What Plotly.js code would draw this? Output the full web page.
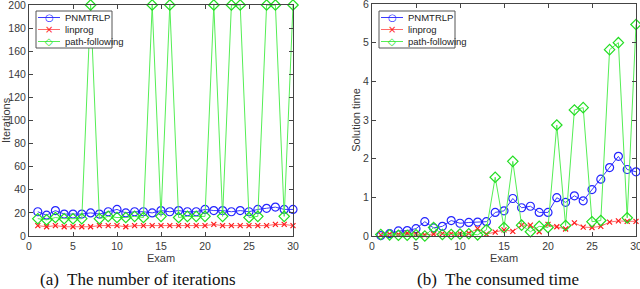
<!DOCTYPE html>
<html>
<head>
<meta charset="utf-8">
<script src="https://cdn.plot.ly/plotly-3.0.1.min.js"></script>
<style>html,body{margin:0;padding:0;background:#fff;}#chart{width:640px;height:289px;}</style>
</head>
<body>
<div id="chart"></div>
<script>
const exams = [1,2,3,4,5,6,7,8,9,10,11,12,13,14,15,16,17,18,19,20,21,22,23,24,25,26,27,28,29,30];

// (a) iterations
const iterPNMTRLP = [21,18,22,19,19,19,20,19,21,23,20,21,21,20,22,21,22,21,21,23,22,22,21,22,21,23,24,25,23,23];
const iterLinprog = [9,8,9,8,8,8,8,9,9,9,8,9,9,9,9,9,9,9,9,9,10,9,9,9,9,9,9,10,10,9];
const iterPath = [15,14,16,15,15,15,200,15,17,16,16,17,16,200,17,200,16,17,17,17,200,17,200,200,16,17,200,200,17,200];

// (b) solution time
const timePNMTRLP = [0.01,0.06,0.13,0.14,0.19,0.37,0.21,0.25,0.40,0.33,0.35,0.36,0.37,0.61,0.65,0.97,0.73,0.77,0.61,0.61,0.99,0.87,1.04,0.91,1.20,1.47,1.77,2.06,1.72,1.66];
const timeLinprog = [0.03,0.05,0.04,0.07,0.05,0.03,0.05,0.06,0.06,0.06,0.07,0.19,0.05,0.10,0.16,0.12,0.28,0.28,0.11,0.30,0.24,0.18,0.34,0.23,0.22,0.25,0.36,0.39,0.38,0.38];
const timePath = [0.04,0.03,0.02,0.02,0.03,0.00,0.22,0.04,0.04,0.05,0.06,0.03,0.16,1.52,0.22,1.93,0.28,0.11,0.25,0.22,2.87,0.27,3.26,3.32,0.37,0.40,4.82,5.00,0.47,5.47];

const xTicks = [0,5,10,15,20,25,30];
const yTicksIter = [0,20,40,60,80,100,120,140,160,180,200];
const yTicksTime = [0,1,2,3,4,5,6];

const names = ['PNMTRLP','linprog','path-following'];
const glyphs = ['○','×','◇'];
const lineColors = ['#3a3aff','#ff6a6a','#55ee55'];
const markerColors = ['#2424ff','#ff1a1a','#22dd22'];
const symbols = ['circle-open','x-thin-open','diamond-open'];
const sizes = [8,5,8];

function mk(y, i, xa, ya) {
  return {
    x: exams, y: y, name: names[i], type: 'scatter', mode: 'lines+markers',
    xaxis: xa, yaxis: ya, showlegend: false,
    line: {color: lineColors[i], width: 1},
    marker: {symbol: symbols[i], size: sizes[i], color: markerColors[i], line: {color: markerColors[i], width: 1.2}},
    cliponaxis: false
  };
}

const data = [
  mk(iterPNMTRLP,0,'x','y'),
  mk(iterLinprog,1,'x','y'),
  mk(iterPath,2,'x','y'),
  mk(timePNMTRLP,0,'x2','y2'),
  mk(timeLinprog,1,'x2','y2'),
  mk(timePath,2,'x2','y2')
];

const tickFont = {family: 'Liberation Sans, Arial, sans-serif', size: 10.5, color: '#3a3a3a'};
const axBase = {
  showline: true, linecolor: '#444', linewidth: 1, mirror: 'ticks',
  ticks: 'inside', ticklen: 4, tickcolor: '#444', tickwidth: 1,
  showgrid: false, zeroline: false, tickfont: tickFont, fixedrange: true,
  ticklabeloverflow: 'allow'
};
const titleFont = {family: 'Liberation Sans, Arial, sans-serif', size: 11, color: '#3a3a3a'};

const W = 640, H = 289;
const px = v => v / W;
const py = v => (H - v) / H;

// custom compact legends (MATLAB style)
const shapes = [];
const annotations = [];
function addLegend(x0, x1) {
  shapes.push({type: 'rect', xref: 'paper', yref: 'paper', x0: px(x0), x1: px(x1), y0: py(48), y1: py(11),
    fillcolor: '#fff', line: {color: '#555', width: 1}, layer: 'above'});
  const rows = [17.5, 29.5, 41.5];
  names.forEach((n, i) => {
    shapes.push({type: 'line', xref: 'paper', yref: 'paper', x0: px(x0 + 2), x1: px(x0 + 24), y0: py(rows[i]), y1: py(rows[i]),
      line: {color: lineColors[i], width: 1}, layer: 'above'});
    annotations.push({text: glyphs[i], xref: 'paper', yref: 'paper', x: px(x0 + 13), y: py(rows[i]),
      xanchor: 'center', yanchor: 'middle', showarrow: false,
      font: {family: 'DejaVu Sans, sans-serif', size: 10, color: markerColors[i]}});
    annotations.push({text: n, xref: 'paper', yref: 'paper', x: px(x0 + 27), y: py(rows[i]),
      xanchor: 'left', yanchor: 'middle', showarrow: false,
      font: {family: 'Liberation Sans, Arial, sans-serif', size: 9.5, color: '#222'}});
  });
}
addLegend(36, 112);
addLegend(379, 455);

annotations.push(
  {text: '(a)  The number of iterations', xref: 'paper', yref: 'paper', x: px(138), y: py(279),
   xanchor: 'center', yanchor: 'middle', showarrow: false,
   font: {family: 'Liberation Serif, Times New Roman, serif', size: 17, color: '#111'}},
  {text: '(b)  The consumed time', xref: 'paper', yref: 'paper', x: px(498), y: py(279),
   xanchor: 'center', yanchor: 'middle', showarrow: false,
   font: {family: 'Liberation Serif, Times New Roman, serif', size: 17, color: '#111'}}
);

const layout = {
  width: W, height: H,
  margin: {l: 0, r: 0, t: 0, b: 0},
  paper_bgcolor: '#fff', plot_bgcolor: '#fff',
  showlegend: false,
  xaxis: Object.assign({}, axBase, {domain: [px(29), px(293)], range: [0,30], tickvals: xTicks,
    title: {text: 'Exam', font: titleFont, standoff: 2}, anchor: 'y'}),
  yaxis: Object.assign({}, axBase, {domain: [py(236), py(5)], range: [0,200], tickvals: yTicksIter,
    title: {text: 'Iterations', font: titleFont, standoff: 4}, anchor: 'x'}),
  xaxis2: Object.assign({}, axBase, {domain: [px(372), px(636)], range: [0,30], tickvals: xTicks,
    title: {text: 'Exam', font: titleFont, standoff: 2}, anchor: 'y2'}),
  yaxis2: Object.assign({}, axBase, {domain: [py(236), py(4)], range: [0,6], tickvals: yTicksTime,
    title: {text: 'Solution time', font: titleFont, standoff: 0}, anchor: 'x2'}),
  shapes: shapes,
  annotations: annotations
};

Plotly.newPlot('chart', data, layout, {displayModeBar: false, staticPlot: true});
</script>
</body>
</html>
